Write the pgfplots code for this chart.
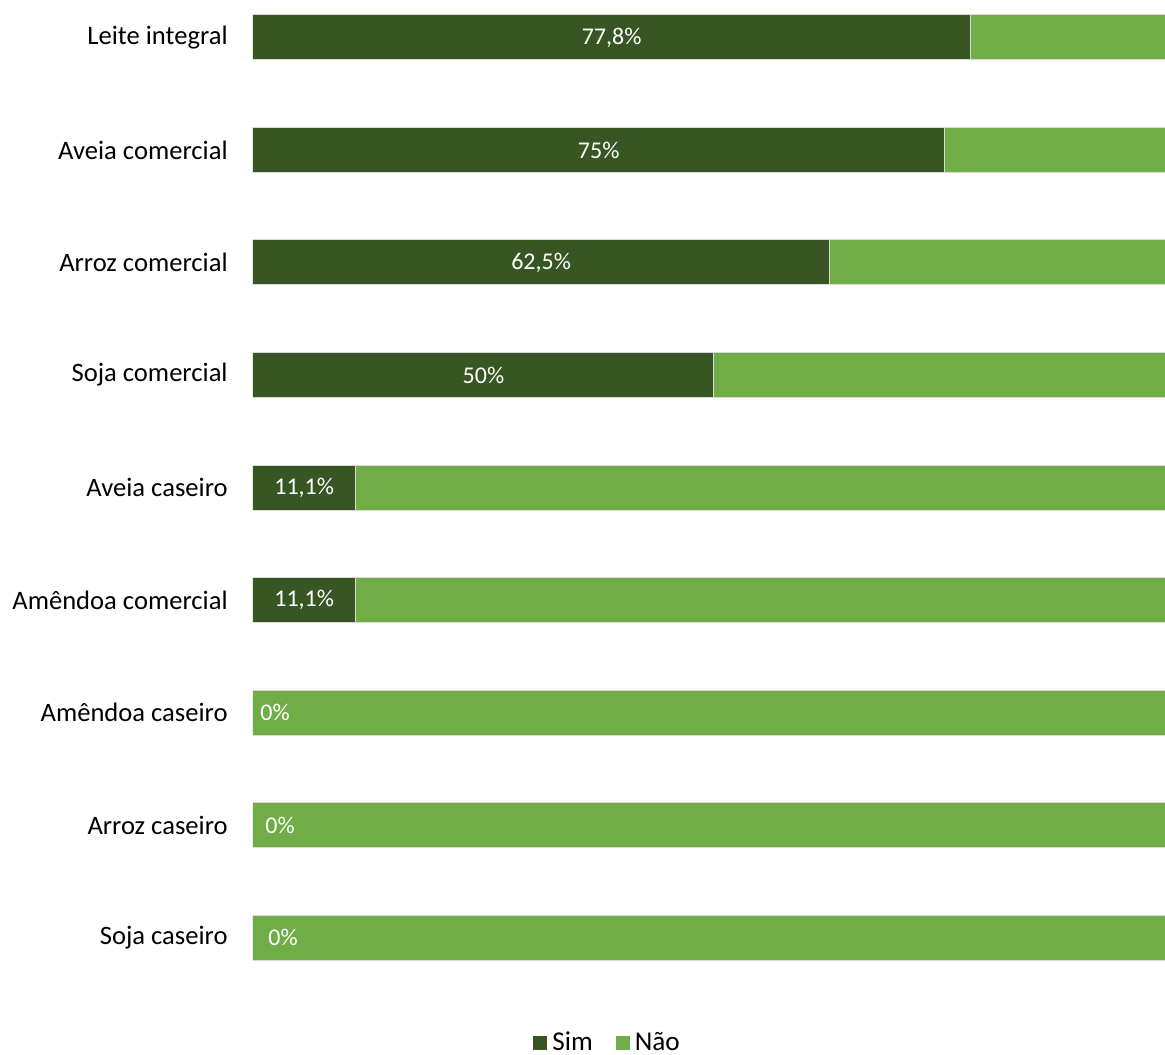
\documentclass[border=0pt]{standalone}
\usepackage{fontspec}
\setmainfont{Carlito}
\usepackage{pgfplots}
\pgfplotsset{compat=1.18}
\definecolor{sim}{HTML}{375623}
\definecolor{nao}{HTML}{70AD47}
\tikzset{lbl/.style={text=white, font=\fontsize{12}{14}\selectfont, inner sep=0pt}}
\begin{document}
\begin{tikzpicture}
\begin{axis}[
  name=ax,
  xbar stacked,
  scale only axis,
  width=456pt, height=492.4pt,
  xmin=0, xmax=98.92,
  ymin=-0.333, ymax=8.42,
  y dir=reverse,
  bar width=0.4,
  axis line style={draw=none},
  xtick=\empty,
  ytick={0,1,2,3,4,5,6,7,8},
  yticklabels={Leite integral, Aveia comercial, Arroz comercial, Soja comercial, Aveia caseiro, Amêndoa comercial, Amêndoa caseiro, Arroz caseiro, Soja caseiro},
  major tick length=0pt,
  tick style={draw=none},
  yticklabel style={font=\fontsize{13.3}{16}\selectfont, inner sep=0pt, xshift=-12.5pt},
  legend columns=2,
  legend style={draw=none, at={(0.307,-0.059)}, anchor=west, inner sep=0pt,
    font=\fontsize{13.6}{16}\selectfont,
    nodes={inner xsep=2.5pt, inner ysep=0pt},
    /tikz/every even column/.append style={column sep=9pt}},
  legend image code/.code={\fill[#1, draw=none] (0pt,-3.5pt) rectangle (7pt,3.5pt);},
]
\addplot[fill=sim, draw=white!85!black, line width=0.5pt] coordinates {
(77.8,0) (75,1) (62.5,2) (50,3) (11.1,4) (11.1,5) (0,6) (0,7) (0,8)};
\addplot[fill=nao, draw=white!85!black, line width=0.5pt] coordinates {
(22.2,0) (25,1) (37.5,2) (50,3) (88.9,4) (88.9,5) (100,6) (100,7) (100,8)};
\legend{Sim, Não}
\coordinate (l0) at (axis cs:38.9,0);
\coordinate (l1) at (axis cs:37.5,1);
\coordinate (l2) at (axis cs:31.25,2);
\coordinate (l3) at (axis cs:25,3);
\coordinate (l4) at (axis cs:5.55,4);
\coordinate (l5) at (axis cs:5.55,5);
\coordinate (l6) at (axis cs:0,6);
\coordinate (l7) at (axis cs:0,7);
\coordinate (l8) at (axis cs:0,8);
\end{axis}
\node[lbl] at (l0) {77,8\%};
\node[lbl] at (l1) {75\%};
\node[lbl] at (l2) {62,5\%};
\node[lbl] at (l3) {50\%};
\node[lbl] at (l4) {11,1\%};
\node[lbl] at (l5) {11,1\%};
\node[lbl, anchor=west, xshift=3.5pt] at (l6) {0\%};
\node[lbl, anchor=west, xshift=6pt] at (l7) {0\%};
\node[lbl, anchor=west, xshift=7.5pt] at (l8) {0\%};
\pgfresetboundingbox
\path[use as bounding box] ([xshift=-126.5pt]ax.north west) rectangle ([yshift=-527.5pt]ax.north east);
\end{tikzpicture}
\end{document}
